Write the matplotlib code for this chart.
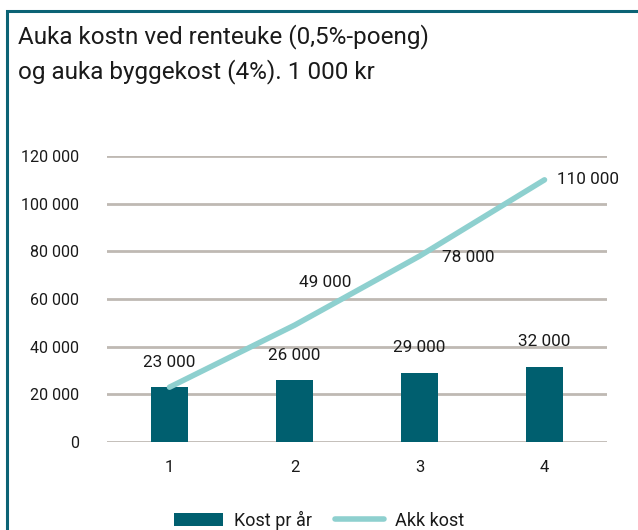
import numpy as np
import matplotlib.pyplot as plt
import matplotlib.patches as mpatches

plt.rcParams['font.family'] = ['Roboto', 'DejaVu Sans']

years = ['1', '2', '3', '4']
kost_pr_aar = [23000, 26000, 29000, 31500]
akk_kost = [23000, 49000, 78000, 110000]
bar_labels = ['23 000', '26 000', '29 000', '32 000']
line_labels = ['', '49 000', '78 000', '110 000']

bar_col = '#005F6F'
line_col = '#8ED0CF'
grid_col = '#BFB9B3'
txt = '#1a1a1a'
fs = 12.3

W, H = 638, 530
fig = plt.figure(figsize=(W / 100, H / 100), dpi=100)
ax = fig.add_axes([107 / W, 1 - 442 / H, 500 / W, 286 / H])

x = np.arange(len(years))
b = ax.bar(x, kost_pr_aar, width=0.3, color=bar_col, zorder=3, label='Kost pr år')
ln, = ax.plot(x, akk_kost, color=line_col, lw=4, zorder=4, label='Akk kost', solid_capstyle='round')

ax.set_xlim(-0.5, 3.5)
ax.set_ylim(0, 120000)
ax.set_yticks(range(0, 120001, 20000))
ax.set_yticklabels([f'{v:,}'.replace(',', ' ') for v in range(0, 120001, 20000)],
                   fontsize=11.5, color=txt)
ax.set_xticks(x)
ax.set_xticklabels(years, fontsize=12, color=txt)
ax.tick_params(length=0, pad=13)
ax.tick_params(axis='y', pad=20)
ax.yaxis.grid(True, color=grid_col, lw=2)
ax.set_axisbelow(True)
for s in ax.spines.values():
    s.set_visible(False)

for i, v in enumerate(kost_pr_aar):
    ax.annotate(bar_labels[i], (x[i], v), xytext=(0, 18), textcoords='offset points',
                ha='center', va='center', fontsize=fs, color=txt)

# labels for the cumulative line
offs = [(0, 0), (22, 31), (16, -1), (9, 0)]
for i, v in enumerate(akk_kost):
    if not line_labels[i]:
        continue
    ax.annotate(line_labels[i], (x[i], v), xytext=offs[i], textcoords='offset points',
                ha='center' if i == 1 else 'left', va='center', fontsize=fs, color=txt)

fig.text(18 / W, 1 - 37 / H, 'Auka kostn ved renteuke (0,5%-poeng)',
         fontsize=17.5, color=txt, va='center', ha='left')
fig.text(18 / W, 1 - 72 / H, 'og auka byggekost (4%). 1 000 kr',
         fontsize=17.5, color=txt, va='center', ha='left')

# frame round the chart
fig.patches.append(mpatches.Rectangle((7 / W, -0.1), 1.1, 1 - 11 / H + 0.1,
                                      transform=fig.transFigure, fill=False,
                                      edgecolor='#0B6375', lw=2.2))

leg = fig.legend([b, ln], ['Kost pr år', 'Akk kost'], loc='center',
                 bbox_to_anchor=(319 / W, 1 - 520 / H), ncol=2,
                 frameon=False, fontsize=13, handlelength=2.7, handleheight=0.75,
                 handletextpad=0.6, columnspacing=1.3)
for t in leg.get_texts():
    t.set_color(txt)

fig.savefig('out.png', dpi=100)
